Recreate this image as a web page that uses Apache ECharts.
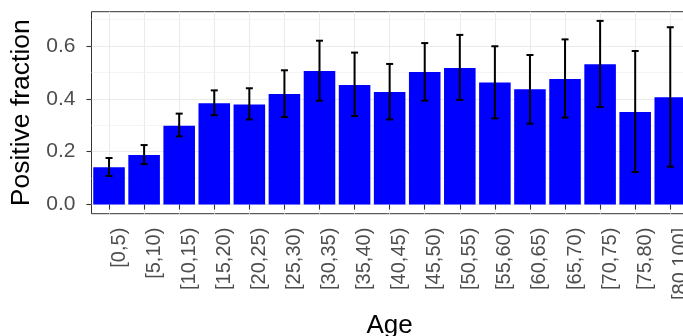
<!DOCTYPE html>
<html>
<head>
<meta charset="utf-8">
<script src="https://cdn.jsdelivr.net/npm/echarts@6/dist/echarts.min.js"></script>
<style>
  html, body { margin: 0; padding: 0; background: #fff; }
  #main { width: 683px; height: 336px; }
</style>
</head>
<body>
<div id="main"></div>
<script>
// 年龄段
var ageGroups = ['[0,5)', '[5,10)', '[10,15)', '[15,20)', '[20,25)', '[25,30)', '[30,35)', '[35,40)',
  '[40,45)', '[45,50)', '[50,55)', '[55,60)', '[60,65)', '[65,70)', '[70,75)', '[75,80)', '[80,100]']
// 阳性比例
var fraction = [0.141, 0.187, 0.298, 0.383, 0.379, 0.418, 0.505, 0.452, 0.426, 0.502, 0.517, 0.462, 0.436, 0.475, 0.531, 0.350, 0.406]
// 误差线 下限 / 上限
var lower = [0.108, 0.153, 0.258, 0.338, 0.322, 0.331, 0.393, 0.335, 0.322, 0.393, 0.396, 0.326, 0.306, 0.329, 0.369, 0.123, 0.143]
var upper = [0.176, 0.225, 0.344, 0.432, 0.440, 0.508, 0.620, 0.575, 0.532, 0.611, 0.642, 0.599, 0.566, 0.625, 0.695, 0.581, 0.671]
var majorTicks = [0, 0.2, 0.4, 0.6]
var minorTicks = [0.1, 0.3, 0.5, 0.7]

var font = 'Liberation Sans, Arial, sans-serif'
var chart = echarts.init(document.getElementById('main'))

var errData = []
for (var i = 0; i < ageGroups.length; i++) {
  errData.push([i, lower[i], upper[i]])
}

chart.setOption({
  animation: false,
  grid: {
    left: 91.5,
    right: -4.8,
    top: 11.7,
    bottom: 122.3,
    outerBoundsMode: 'none',
    containLabel: false,
    show: true,
    borderColor: '#333333',
    borderWidth: 1,
    backgroundColor: 'transparent'
  },
  xAxis: {
    type: 'category',
    data: ageGroups,
    name: 'Age',
    nameLocation: 'middle',
    nameGap: 99,
    nameTextStyle: { fontSize: 26, color: '#000', fontFamily: font },
    axisLine: { show: false },
    axisTick: { show: true, alignWithLabel: true, length: 5, lineStyle: { color: '#333333', width: 1.1 } },
    axisLabel: {
      rotate: 90,
      interval: 0,
      margin: 14,
      align: 'right',
      verticalAlign: 'top',
      fontSize: 20,
      color: '#4D4D4D',
      fontFamily: font
    },
    splitLine: { show: true, alignWithLabel: true, lineStyle: { color: '#EBEBEB', width: 1.1 } }
  },
  yAxis: {
    type: 'value',
    min: -0.0348,
    max: 0.7298,
    splitNumber: 4,
    name: 'Positive fraction',
    nameLocation: 'middle',
    nameGap: 55,
    nameTextStyle: { fontSize: 26.5, color: '#000', fontFamily: font },
    axisLine: { show: false },
    axisTick: { show: true, length: 5, customValues: majorTicks, lineStyle: { color: '#333333', width: 1.1 } },
    axisLabel: {
      customValues: majorTicks,
      margin: 16,
      fontSize: 21,
      color: '#4D4D4D',
      fontFamily: font,
      formatter: function(v) { return v.toFixed(1) }
    },
    splitLine: { show: true, lineStyle: { color: '#EBEBEB', width: 1.1 } }
  },
  series: [{
    // 次网格线
    type: 'line',
    data: [],
    z: 1,
    silent: true,
    markLine: {
      z: 1,
      silent: true,
      symbol: 'none',
      label: { show: false },
      lineStyle: { color: '#F1F1F1', width: 0.8, type: 'solid' },
      data: minorTicks.map(function(v) { return { yAxis: v } })
    }
  }, {
    type: 'bar',
    data: fraction,
    barWidth: '90%',
    z: 2,
    itemStyle: { color: '#0000FF' }
  }, {
    type: 'custom',
    z: 3,
    data: errData,
    renderItem: function(params, api) {
      var x = api.value(0)
      var lo = api.coord([x, api.value(1)])
      var hi = api.coord([x, api.value(2)])
      var half = api.size([1, 0])[0] * 0.1
      var style = { stroke: '#000', lineWidth: 2 }
      return {
        type: 'group',
        children: [
          { type: 'line', shape: { x1: hi[0], y1: hi[1], x2: lo[0], y2: lo[1] }, style: style },
          { type: 'line', shape: { x1: hi[0] - half, y1: hi[1], x2: hi[0] + half, y2: hi[1] }, style: style },
          { type: 'line', shape: { x1: lo[0] - half, y1: lo[1], x2: lo[0] + half, y2: lo[1] }, style: style }
        ]
      }
    }
  }]
})
</script>
</body>
</html>
